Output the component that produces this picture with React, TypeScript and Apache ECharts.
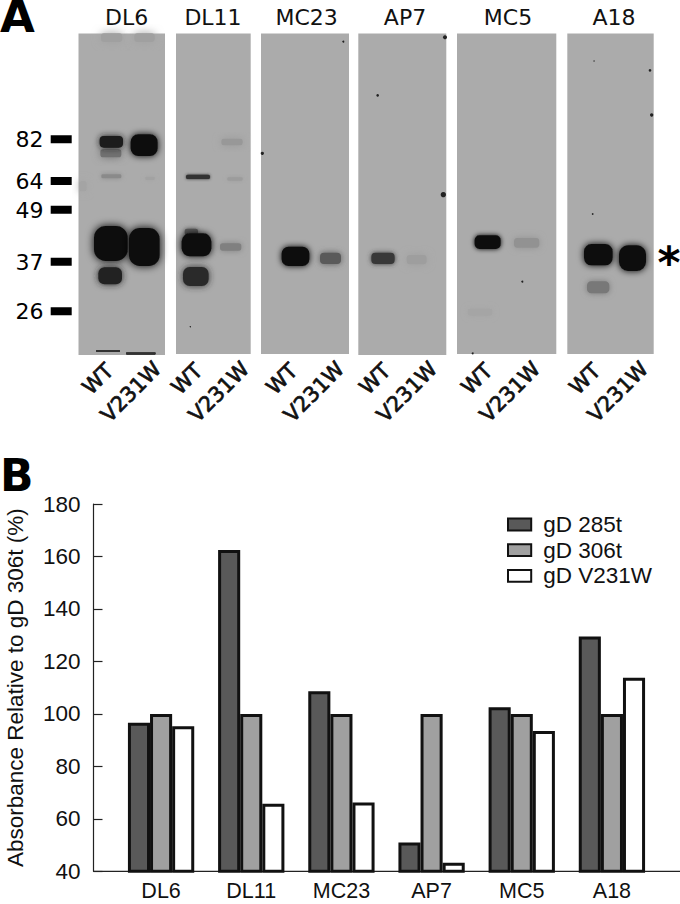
import React, { useEffect, useRef } from "react";
import * as echarts from "echarts";

const categories = ["DL6", "DL11", "MC23", "AP7", "MC5", "A18"];
const seriesNames = ["gD 285t", "gD 306t", "gD V231W"];
const gD285t = [96.6, 162.5, 108.6, 51, 102.5, 129.5];
const gD306t = [100, 100, 100, 100, 100, 100];
const gDV231W = [95.3, 65.7, 66.2, 43.3, 93.5, 113.8];
const seriesColors = ["#595959", "#a0a0a0", "#ffffff"];

const markerLabels = ["82", "64", "49", "37", "26"];
const laneLabels = ["WT", "V231W"];

// Blot drawing (image content of panel A), in page pixels.
const panelRects = [
  [78.5, 33.5, 165, 355],
  [176, 33.5, 250.7, 354],
  [261, 33.5, 349, 354],
  [358.3, 33.5, 446.3, 355],
  [457, 33.5, 556.3, 354],
  [567.3, 33.5, 653.7, 354],
];
const panelTitleX = [126.7, 213, 306.7, 405, 508, 614];
const wtLabelX = [98, 187, 282, 375, 477, 585];
const mutLabelX = [131, 219, 314, 407, 510, 618];
const markerY = [139.3, 181, 209.7, 261.7, 311.3];

// x0, y0, x1, y1, colour, blur — in 3x crop coordinates, left crop
const bandsLeft: [number, number, number, number, string, number][] = [
  [305, 102, 365, 124, "#a0a0a0", 10],
  [405, 102, 462, 124, "#a0a0a0", 10],
  [240, 545, 258, 572, "#a4a4a4", 8],
  [303, 449, 362, 470, "#707070", 8],
  [301, 410, 367, 441, "#1a1a1a", 6],
  [394, 405, 471, 466, "#111111", 7],
  [306, 525, 362, 533, "#8a8a8a", 5],
  [438, 532, 462, 538, "#a2a2a2", 4],
  [284, 680, 381, 781, "#0d0d0d", 9],
  [389, 686, 477, 796, "#0f0f0f", 9],
  [297, 804, 364, 851, "#222222", 7],
  [290, 1052, 358, 1054, "#333333", 1],
  [380, 1059, 465, 1062, "#333333", 1],
  [666, 418, 726, 434, "#989898", 8],
  [560, 526, 628, 535, "#333333", 3],
  [684, 534, 726, 540, "#9c9c9c", 4],
  [556, 688, 592, 704, "#5a5a5a", 5],
  [547, 702, 632, 767, "#0f0f0f", 7],
  [662, 732, 722, 750, "#808080", 6],
  [551, 803, 624, 856, "#2a2a2a", 7],
  [847, 742, 926, 796, "#0f0f0f", 6],
  [962, 760, 1021, 790, "#5a5a5a", 6],
];
// same, right crop (crop x + 340 page pixels)
const bandsRight: [number, number, number, number, string, number][] = [
  [96, 760, 162, 790, "#383838", 5],
  [202, 767, 258, 791, "#9e9e9e", 8],
  [406, 708, 480, 745, "#0f0f0f", 5],
  [524, 716, 596, 741, "#929292", 7],
  [734, 734, 816, 794, "#0f0f0f", 7],
  [839, 738, 916, 811, "#0f0f0f", 7],
  [743, 846, 806, 878, "#787878", 6],
  [385, 928, 455, 945, "#a5a5a5", 6],
];
const specksLeft = [[785, 340, 1.5], [787, 460, 5], [571, 980, 2], [625, 1060, 2], [1030, 125, 3]];
const specksRight = [
  [113, 286, 4], [315, 112, 6], [310, 584, 8], [547, 845, 3], [930, 211, 4],
  [932, 232, 2.5], [935, 345, 5], [910, 412, 2.5], [758, 642, 2.5], [762, 183, 2], [398, 1060, 3],
];

function band(b: [number, number, number, number, string, number], dx: number) {
  const [x0, y0, x1, y1, c, blur] = b;
  const w = (x1 - x0 + 4) / 3;
  const h = (y1 - y0 + 4) / 3;
  return {
    type: "rect",
    silent: true,
    shape: { x: dx + (x0 - 2) / 3, y: (y0 - 2) / 3, width: w, height: h, r: Math.min(w, h) * 0.35 },
    style: { fill: c, shadowColor: c, shadowBlur: blur },
  };
}
function speck(s: number[], dx: number) {
  return {
    type: "circle",
    silent: true,
    shape: { cx: dx + s[0] / 3, cy: s[1] / 3, r: s[2] / 3 },
    style: { fill: "#222222" },
  };
}
const dejavu = "'DejaVu Sans', sans-serif";
const liberation = "'Liberation Sans', Arial, sans-serif";

function buildGraphic() {
  const els: any[] = [];
  panelRects.forEach(([x0, y0, x1, y1]) =>
    els.push({
      type: "rect",
      silent: true,
      shape: { x: x0, y: y0, width: x1 - x0, height: y1 - y0 },
      style: { fill: "#ababab" },
    })
  );
  bandsLeft.forEach((b) => els.push(band(b, 0)));
  bandsRight.forEach((b) => els.push(band(b, 340)));
  specksLeft.forEach((s) => els.push(speck(s, 0)));
  specksRight.forEach((s) => els.push(speck(s, 340)));
  categories.forEach((c, i) =>
    els.push({
      type: "text",
      x: panelTitleX[i],
      y: 17,
      style: { text: c, fill: "#111", fontSize: 22, fontFamily: dejavu, align: "center", verticalAlign: "middle" },
    })
  );
  markerLabels.forEach((m, i) => {
    els.push({
      type: "text",
      x: 43.5,
      y: markerY[i] + 0.5,
      style: { text: m, fill: "#000", fontSize: 22, fontFamily: dejavu, align: "right", verticalAlign: "middle" },
    });
    els.push({
      type: "rect",
      silent: true,
      shape: { x: 50.7, y: markerY[i] - 4, width: 21, height: 8 },
      style: { fill: "#000" },
    });
  });
  wtLabelX.forEach((x, i) => {
    els.push({
      type: "text",
      x,
      y: 379,
      rotation: Math.PI / 4,
      style: { text: laneLabels[0], fill: "#111", stroke: "#111", lineWidth: 0.7, fontSize: 21, fontFamily: dejavu, align: "center", verticalAlign: "middle" },
    });
    els.push({
      type: "text",
      x: mutLabelX[i],
      y: 392,
      rotation: Math.PI / 4,
      style: { text: laneLabels[1], fill: "#111", stroke: "#111", lineWidth: 0.7, fontSize: 21, fontFamily: dejavu, align: "center", verticalAlign: "middle" },
    });
  });
  els.push({
    type: "text",
    x: 0,
    y: 16.5,
    style: { text: "A", fill: "#000", fontSize: 45, lineHeight: 32, fontWeight: "bold", fontFamily: dejavu, align: "left", verticalAlign: "middle" },
  });
  els.push({
    type: "text",
    x: 0,
    y: 475,
    style: { text: "B", fill: "#000", fontSize: 44, lineHeight: 32, fontWeight: "bold", fontFamily: dejavu, align: "left", verticalAlign: "middle" },
  });
  els.push({
    type: "text",
    x: 669,
    y: 262,
    style: { text: "*", fill: "#000", fontSize: 44, fontWeight: "bold", fontFamily: dejavu, align: "center", verticalAlign: "middle" },
  });
  els.push({
    type: "line",
    silent: true,
    shape: { x1: 93.5, y1: 871.3, x2: 680, y2: 871.3 },
    style: { stroke: "#222", lineWidth: 1.2 },
    z: 1,
  });
  return els;
}

function makeSeries(name: string, data: number[], color: string) {
  return {
    name,
    type: "bar",
    data,
    barWidth: 22.1,
    barGap: "0%",
    itemStyle: { color, borderColor: "#111", borderWidth: 3 },
  };
}

export default function App() {
  const ref = useRef<HTMLDivElement>(null);
  useEffect(() => {
    document.body.style.margin = "0";
    const chart = echarts.init(ref.current!, undefined, { renderer: "svg" });
    chart.setOption({
      animation: false,
      backgroundColor: "#ffffff",
      graphic: buildGraphic(),
      grid: { left: 116, right: 23, top: 504, bottom: 32.7, containLabel: false, outerBoundsMode: "none" },
      legend: {
        data: seriesNames,
        orient: "vertical",
        left: 507,
        top: 513,
        icon: "rect",
        itemWidth: 23.2,
        itemHeight: 11.8,
        itemGap: 2.7,
        padding: 0,
        textStyle: { fontSize: 22.5, fontFamily: liberation, color: "#111", lineHeight: 20, padding: [0, 0, 0, 7] },
      },
      xAxis: {
        type: "category",
        data: categories,
        axisLine: { show: false },
        axisTick: { show: false },
        axisLabel: { fontSize: 21.5, lineHeight: 20, fontFamily: liberation, color: "#111", margin: 10 },
      },
      yAxis: {
        type: "value",
        min: 40,
        max: 180,
        interval: 20,
        offset: 22.5,
        name: "Absorbance Relative to gD 306t (%)",
        nameLocation: "middle",
        nameGap: 67,
        nameTextStyle: { fontSize: 22.5, fontFamily: liberation, color: "#111" },
        splitLine: { show: false },
        axisLine: { show: true, lineStyle: { color: "#222", width: 1.2 } },
        axisTick: { show: true, inside: true, length: 9, lineStyle: { color: "#222", width: 1.2 } },
        axisLabel: { fontSize: 22.5, fontFamily: liberation, color: "#111", margin: 13 },
      },
      series: [
        makeSeries(seriesNames[0], gD285t, seriesColors[0]),
        makeSeries(seriesNames[1], gD306t, seriesColors[1]),
        makeSeries(seriesNames[2], gDV231W, seriesColors[2]),
      ],
    });
    return () => chart.dispose();
  }, []);
  return <div ref={ref} style={{ width: 680, height: 904 }} />;
}
